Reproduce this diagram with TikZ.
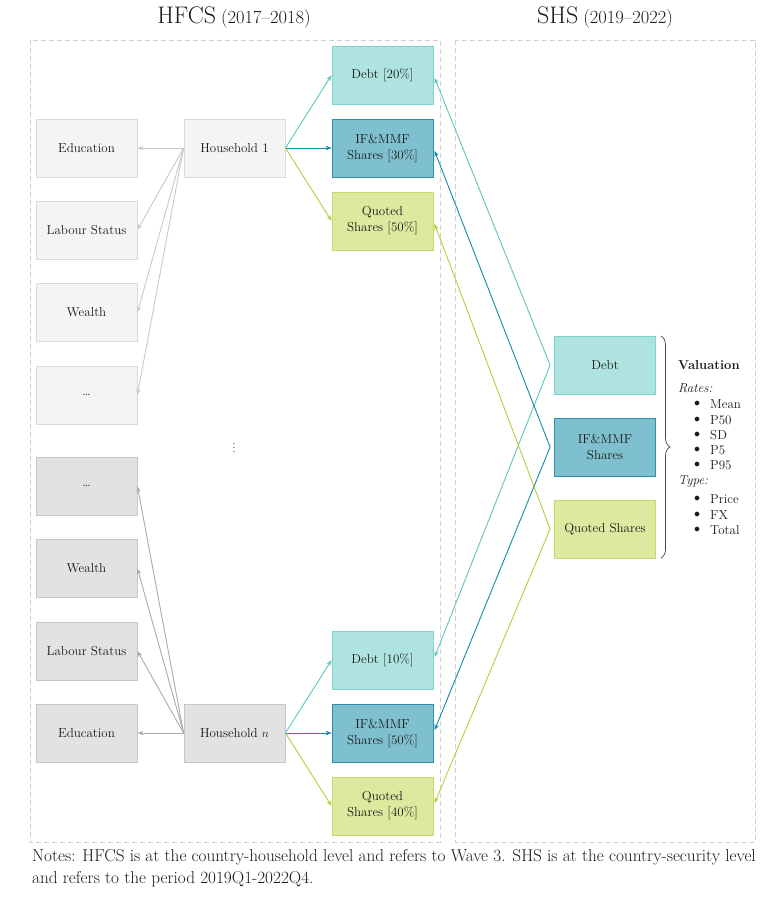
\documentclass[tikz,border=0pt]{standalone}
\usetikzlibrary{arrows.meta,decorations.pathreplacing}
\definecolor{txt}{HTML}{1A1A1A}
\definecolor{lgfill}{HTML}{F4F4F4}\definecolor{lgdraw}{HTML}{DADADA}
\definecolor{dgfill}{HTML}{E2E2E2}\definecolor{dgdraw}{HTML}{C6C6C6}
\definecolor{debtfill}{HTML}{AEE3E0}\definecolor{debtdraw}{HTML}{7FD3CE}\definecolor{debtline}{HTML}{5CC6C0}
\definecolor{iffill}{HTML}{7FC0CF}\definecolor{ifdraw}{HTML}{2E90AA}\definecolor{ifline}{HTML}{1589A6}
\definecolor{qfill}{HTML}{DEE89E}\definecolor{qdraw}{HTML}{C8DA6E}\definecolor{qline}{HTML}{B6CE3C}
\definecolor{lgline}{HTML}{C8C8C8}\definecolor{dgline}{HTML}{ABABAB}
\definecolor{dash}{HTML}{CFCFCF}
\tikzset{
  box/.style={draw, line width=0.8pt, minimum width=101pt, minimum height=58pt, align=center, text=txt, font=\fontsize{13}{16}\selectfont, inner sep=2pt},
  lbox/.style={box, fill=lgfill, draw=lgdraw},
  dbox/.style={box, fill=dgfill, draw=dgdraw},
  debtbox/.style={box, fill=debtfill, draw=debtdraw},
  ifbox/.style={box, fill=iffill, draw=ifdraw},
  qbox/.style={box, fill=qfill, draw=qdraw},
  arr/.style={line width=0.9pt, -{Stealth[length=6pt,width=4.5pt]}},
  frame/.style={draw=dash, line width=0.8pt, dash pattern=on 5pt off 3pt},
  vtxt/.style={text=txt, font=\fontsize{13}{15}\selectfont, anchor=west, inner sep=0pt},
}
\begin{document}
\begin{tikzpicture}[x=1pt,y=-1pt]
\useasboundingbox (0,0) rectangle (784,902);
% frames
\draw[frame] (30,40) rectangle (440,842);
\draw[frame] (455,40) rectangle (755,842);
% titles
\node[text=txt] (t1) at (234,17) {{\fontsize{24}{26}\selectfont HFCS}\hspace{5pt}{\fontsize{18.5}{20}\selectfont (2017--2018)}};
\node[text=txt] (t2) at (605,17) {{\fontsize{24}{26}\selectfont SHS}\hspace{5pt}{\fontsize{18.5}{20}\selectfont (2019--2022)}};
% left column, household 1
\node[lbox] (e1) at (86.5,148) {Education};
\node[lbox] (l1) at (86.5,230) {Labour Status};
\node[lbox] (w1) at (86.5,312.5) {Wealth};
\node[lbox] (o1) at (86.5,395) {\dots};
\node[lbox] (h1) at (234.5,148) {Household 1};
% left column, household n
\node[dbox] (o2) at (86.5,486) {\dots};
\node[dbox] (w2) at (86.5,568.5) {Wealth};
\node[dbox] (l2) at (86.5,651) {Labour Status};
\node[dbox] (e2) at (86.5,733) {Education};
\node[dbox] (h2) at (234.5,733) {Household $n$};
\node[text=txt] (vd) at (234,445) {$\vdots$};
% middle column
\node[debtbox] (d1) at (382.5,75) {Debt [20\%]};
\node[ifbox] (i1) at (382.5,148) {IF\&MMF\\Shares [30\%]};
\node[qbox] (q1) at (382.5,221) {Quoted\\Shares [50\%]};
\node[debtbox] (d2) at (382.5,660) {Debt [10\%]};
\node[ifbox] (i2) at (382.5,733) {IF\&MMF\\Shares [50\%]};
\node[qbox] (q2) at (382.5,806) {Quoted\\Shares [40\%]};
% right column
\node[debtbox] (rd) at (605,365) {Debt};
\node[ifbox] (ri) at (605,447) {IF\&MMF\\Shares};
\node[qbox] (rq) at (605,529) {Quoted Shares};
\coordinate (cd) at ([xshift=-4pt]rd.west);
\coordinate (ci) at ([xshift=-4pt]ri.west);
\coordinate (cq) at ([xshift=-4pt]rq.west);
% household connectors
\foreach \t in {e1,l1,w1,o1} \draw[arr, lgline] (h1.west) -- (\t.east);
\foreach \t in {e2,l2,w2,o2} \draw[arr, dgline] (h2.west) -- (\t.east);
\draw[arr, debtline] (h1.east) -- (d1.west);
\draw[arr, ifline] (h1.east) -- (i1.west);
\draw[arr, qline] (h1.east) -- (q1.west);
\draw[arr, debtline] (h2.east) -- (d2.west);
\draw[arr, ifline] (h2.east) -- (i2.west);
\draw[arr, qline] (h2.east) -- (q2.west);
% SHS connectors
\draw[arr, debtline, shorten >=3pt] (cd) -- (d1.east);
\draw[arr, debtline, shorten >=3pt] (cd) -- (d2.east);
\draw[arr, ifline, shorten >=3pt] (ci) -- (i1.east);
\draw[arr, ifline, shorten >=3pt] (ci) -- (i2.east);
\draw[arr, qline, shorten >=3pt] (cq) -- (q1.east);
\draw[arr, qline, shorten >=3pt] (cq) -- (q2.east);
% brace
\draw[txt!80, line width=0.7pt, decorate, decoration={brace, amplitude=9pt}] (661,336) -- (661,558);
% valuation list
\node[vtxt, font=\fontsize{13}{15}\selectfont\bfseries] (val) at (678,365) {Valuation};
\node[vtxt, font=\fontsize{13}{15}\selectfont\itshape] (rates) at (678,388) {Rates:};
\foreach \y/\s [count=\i] in {404/Mean,420/P50,435/SD,450/P5,465/P95} {
  \node[vtxt] (rb\i) at (694,\y) {$\bullet$};
  \node[vtxt] (ri\i) at (710,\y) {\s};
}
\node[vtxt, font=\fontsize{13}{15}\selectfont\itshape] (type) at (678,481) {Type:};
\foreach \y/\s [count=\i] in {499/Price,515/FX,530/Total} {
  \node[vtxt] (tb\i) at (694,\y) {$\bullet$};
  \node[vtxt] (ti\i) at (710,\y) {\s};
}
% notes
\node[anchor=north west, text=txt, align=left, inner sep=0pt, font=\fontsize{17.2}{22}\selectfont] (notes) at (32,849) {Notes: HFCS is at the country-household level and refers to Wave 3. SHS is at the country-security level\\and refers to the period 2019Q1-2022Q4.};
\end{tikzpicture}
\end{document}
